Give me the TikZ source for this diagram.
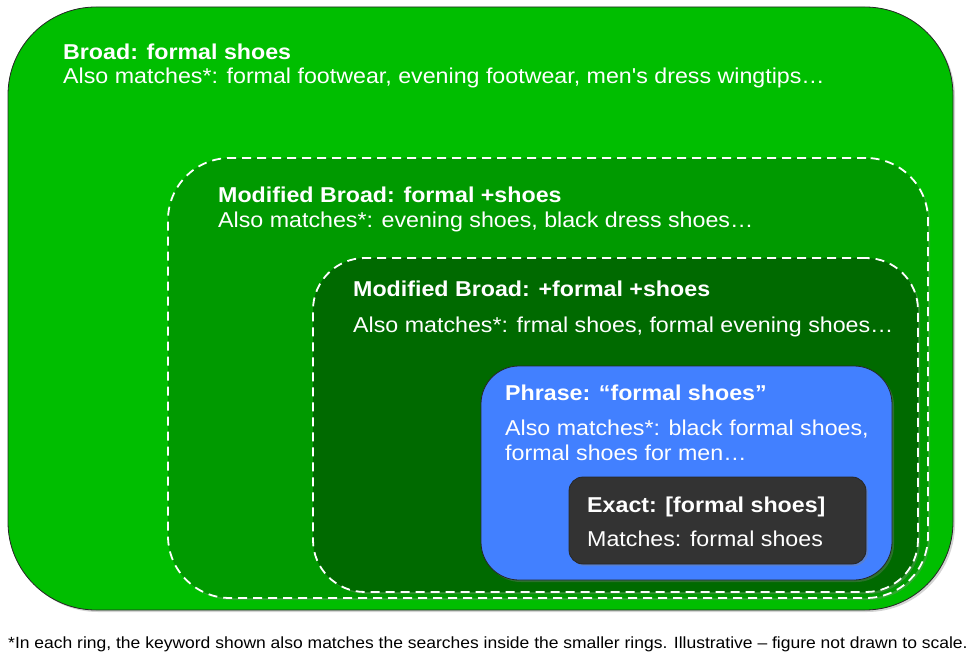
\documentclass[tikz,border=0pt]{standalone}
\usepackage{fontspec}
\setmainfont[FakeStretch=1.08, Ligatures=TeXOff]{Liberation Sans}
\usepackage{xcolor}
\usepackage{tikz}
\usetikzlibrary{positioning,shadows}
\definecolor{BroadGreen}{RGB}{0,190,0}
\definecolor{ModGreen}{RGB}{0,154,0}
\definecolor{PlusGreen}{RGB}{0,106,0}
\definecolor{PhraseBlue}{RGB}{66,128,255}
\definecolor{ExactGray}{RGB}{51,51,51}
\tikzset{
    ring/.style={rectangle, inner sep=0pt, drop shadow={shadow xshift=2pt, shadow yshift=-2pt, opacity=0.35}},
    solidring/.style={ring, draw=black!85, line width=0.8pt},
    dashring/.style={ring, draw=white, line width=1.8pt, dash pattern=on 9pt off 6pt},
    title/.style={anchor=base west, inner sep=0pt, text=white, font=\bfseries\fontsize{21.5}{25}\selectfont},
    body/.style={anchor=base west, inner sep=0pt, text=white, font=\fontsize{21.5}{25}\selectfont}
}
\begin{document}
\begin{tikzpicture}[x=1pt, y=-1pt]
    \useasboundingbox (0,0) rectangle (975,655);
    % --- VÒNG NGOÀI: Broad ---
    \node[solidring, fill=BroadGreen, rounded corners=88pt,
        minimum width=945pt, minimum height=603pt] (broad) at (480.5,308.5) {};
    % --- Modified Broad: formal +shoes ---
    \node[dashring, fill=ModGreen, rounded corners=62pt,
        minimum width=760pt, minimum height=440pt] (modone) at (548,378) {};
    % --- Modified Broad: +formal +shoes ---
    \node[dashring, fill=PlusGreen, rounded corners=52pt,
        minimum width=605pt, minimum height=334pt] (modtwo) at (615.5,425) {};
    % --- Phrase ---
    \node[solidring, fill=PhraseBlue, rounded corners=38pt,
        minimum width=411pt, minimum height=214pt] (phrase) at (686.5,473) {};
    % --- Exact ---
    \node[solidring, fill=ExactGray, rounded corners=14pt,
        minimum width=297pt, minimum height=87pt] (exact) at (717.5,520.5) {};

    % --- CHỮ ---
    \node[title] (broadT) at (63,60) {Broad: formal shoes};
    \node[body] (broadB) at (63,84) {Also matches*: formal footwear, evening footwear, men's dress wingtips…};
    \node[title] (modoneT) at (218,203) {Modified Broad: formal +shoes};
    \node[body] (modoneB) at (218,228) {Also matches*: evening shoes, black dress shoes…};
    \node[title] (modtwoT) at (353,297) {Modified Broad: +formal +shoes};
    \node[body] (modtwoB) at (353,332) {Also matches*: frmal shoes, formal evening shoes…};
    \node[title] (phraseT) at (505,400) {Phrase: “formal shoes”};
    \node[body] (phraseB) at (505,435) {Also matches*: black formal shoes,};
    \node[body] (phraseC) at (505,460) {formal shoes for men…};
    \node[title] (exactT) at (587,512) {Exact: [formal shoes]};
    \node[body] (exactB) at (587,546) {Matches: formal shoes};

    % --- CHÚ THÍCH ---
    \node[anchor=base west, inner sep=0pt, font=\fontsize{16.2}{19}\selectfont] (note) at (8,648)
        {*In each ring, the keyword shown also matches the searches inside the smaller rings. Illustrative – figure not drawn to scale.};
\end{tikzpicture}
\end{document}
